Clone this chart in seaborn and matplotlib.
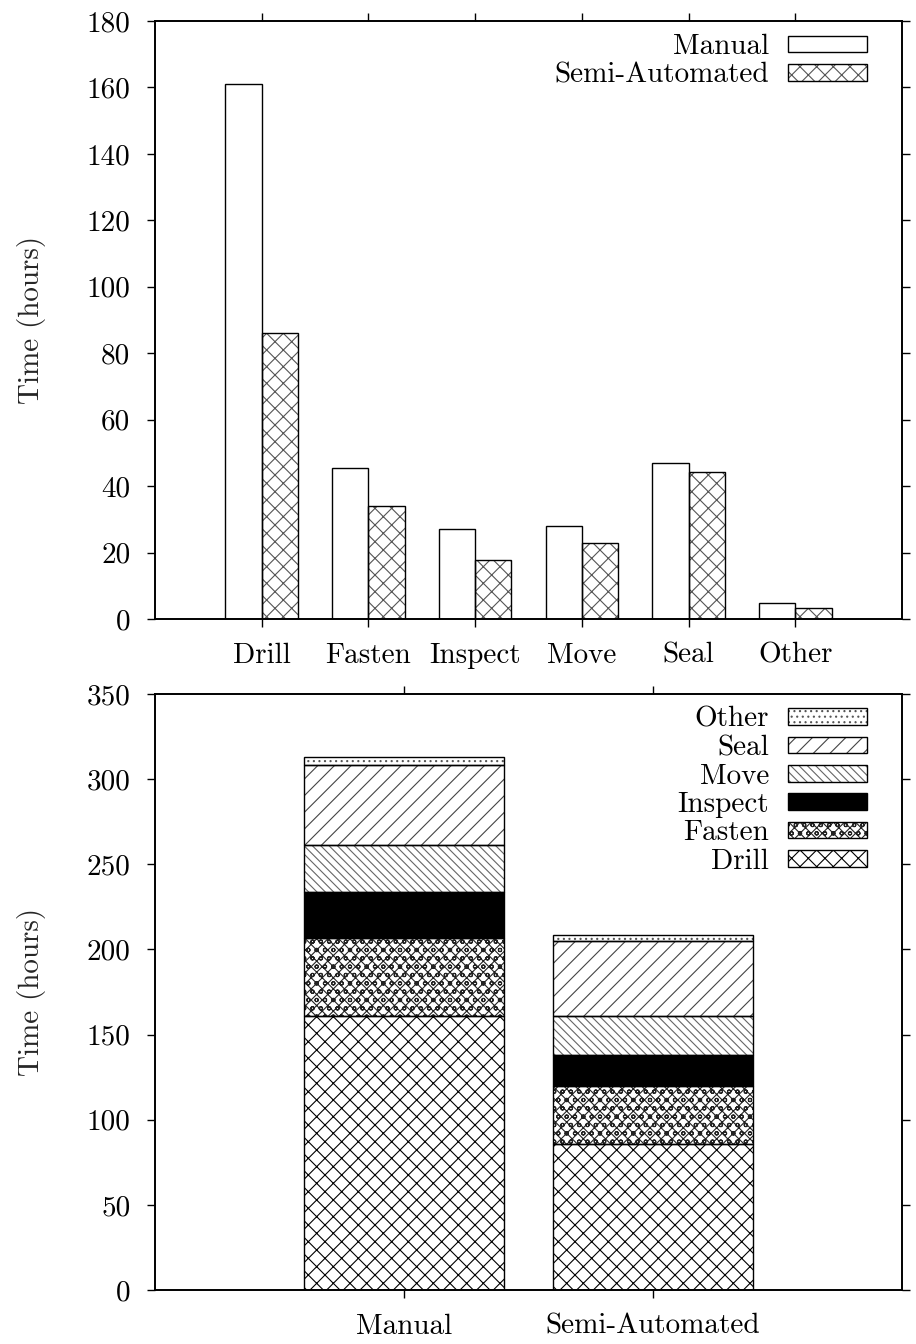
import matplotlib
matplotlib.use("Agg")
import matplotlib.pyplot as plt
import matplotlib.patches as mpatches
from matplotlib.legend_handler import HandlerTuple
import seaborn as sns
import pandas as pd
import numpy as np

# ---- data -------------------------------------------------------------
tasks = ["Drill", "Fasten", "Inspect", "Move", "Seal", "Other"]
methods = ["Manual", "Semi-Automated"]
manual_hours = [161.0, 45.5, 27.0, 28.0, 47.0, 4.7]
semi_hours = [86.0, 34.0, 17.8, 23.0, 44.2, 3.2]
top_yticks = [0, 20, 40, 60, 80, 100, 120, 140, 160, 180]
bottom_yticks = [0, 50, 100, 150, 200, 250, 300, 350]

# ---- styling ----------------------------------------------------------
sns.set_theme(style="ticks")
FS = 21.0
plt.rcParams.update({
    "font.family": ["cmr10", "DejaVu Serif"],
    "mathtext.fontset": "cm",
    "axes.unicode_minus": False,
    "font.size": FS,
    "axes.linewidth": 1.4,
    "hatch.linewidth": 0.8,
    "xtick.direction": "out",
    "ytick.direction": "out",
    "xtick.major.size": 5.8,
    "ytick.major.size": 5.8,
    "xtick.major.width": 1.0,
    "ytick.major.width": 1.0,
    "xtick.color": "black",
    "ytick.color": "black",
    "axes.edgecolor": "black",
    "text.color": "black",
})

# fill style per stacked segment: facecolor, hatch, hatch colour
task_style = {
    "Drill":   ("white", "xx", "black"),
    "Fasten":  ("white", "xxxoo", "#222222"),
    "Inspect": ("black", "", "black"),
    "Move":    ("white", "\\\\\\\\", "#666666"),
    "Seal":    ("white", "//", "#444444"),
    "Other":   ("white", "...", "#555555"),
}
method_style = {
    "Manual": ("white", "", "black"),
    "Semi-Automated": ("white", "xx", "#555555"),
}
EDGE_LW = 1.0


def style_bar(ax, patch, face, hatch, hcolor):
    """Apply fill/hatch to a bar and give it a crisp black outline."""
    patch.set_facecolor(face)
    patch.set_hatch(hatch if hatch else None)
    patch.set_edgecolor(hcolor)
    patch.set_linewidth(0)
    ax.add_patch(mpatches.Rectangle(patch.get_xy(), patch.get_width(),
                                    patch.get_height(), fill=False,
                                    edgecolor="black", linewidth=EDGE_LW,
                                    zorder=patch.get_zorder() + 0.1))


def legend_handle(face, hatch, hcolor):
    fill = mpatches.Patch(facecolor=face, hatch=hatch if hatch else None,
                          edgecolor=hcolor, linewidth=0)
    border = mpatches.Patch(facecolor="none", edgecolor="black",
                            linewidth=EDGE_LW)
    return (fill, border)


def finish_axes(ax, yticks):
    ax.set_ylim(yticks[0], yticks[-1])
    ax.set_yticks(yticks, [str(t) for t in yticks])
    ax.tick_params(axis="both", which="both", top=True, right=True,
                   labeltop=False, labelright=False, labelsize=FS)
    ax.tick_params(axis="y", pad=12)
    ax.tick_params(axis="x", pad=11)
    for s in ax.spines.values():
        s.set_visible(True)
        s.set_linewidth(1.4)
    ax.set_xlabel("")
    ax.set_ylabel("Time (hours)", fontsize=FS)
    ax.yaxis.set_label_coords(-0.146, 0.5)


LEG_KW = dict(loc="upper right", borderpad=0, borderaxespad=0,
              handlelength=2.7, handleheight=0.5, handletextpad=0.66,
              labelspacing=0.07, markerfirst=False, frameon=False,
              fontsize=FS, handler_map={tuple: HandlerTuple(ndivide=1, pad=0)})

W, H = 916, 1344
fig = plt.figure(figsize=(W / 100, H / 100), dpi=100)
ax_top = fig.add_axes([155 / W, 1 - 619 / H, 747 / W, 598 / H])
ax_bot = fig.add_axes([155 / W, 1 - 1290 / H, 747 / W, 596 / H])

# ---- grouped bars: hours per task ----------------------------------------
df_top = pd.DataFrame({
    "task": tasks * 2,
    "method": [methods[0]] * len(tasks) + [methods[1]] * len(tasks),
    "hours": manual_hours + semi_hours,
})
sns.barplot(data=df_top, x="task", y="hours", hue="method", order=tasks,
            hue_order=methods, palette=["white", "white"], width=0.68,
            gap=0, errorbar=None, legend=False, ax=ax_top)
bars = [p for p in ax_top.patches if isinstance(p, mpatches.Rectangle)]
n = len(tasks)
for i, p in enumerate(bars[: 2 * n]):
    style_bar(ax_top, p, *method_style[methods[i // n]])
ax_top.set_xlim(-1, len(tasks))
finish_axes(ax_top, top_yticks)
handles = [legend_handle(*method_style[m]) for m in methods]
ax_top.legend(handles, methods, bbox_to_anchor=(0.9531, 0.978), **LEG_KW)

# ---- stacked bars: total hours per method ---------------------------------
per_method = {methods[0]: manual_hours, methods[1]: semi_hours}
cum = np.zeros(len(methods))
for k, task in enumerate(tasks):
    vals = np.array([per_method[m][k] for m in methods])
    before = len(ax_bot.patches)
    sns.barplot(x=methods, y=vals, order=methods, color="white", width=0.8,
                errorbar=None, bottom=cum, ax=ax_bot)
    new = ax_bot.patches[before:]
    for p in new:
        style_bar(ax_bot, p, *task_style[task])
    cum = cum + vals
ax_bot.set_xlim(-1, len(methods))
finish_axes(ax_bot, bottom_yticks)
handles = [legend_handle(*task_style[t]) for t in tasks[::-1]]
ax_bot.legend(handles, tasks[::-1], bbox_to_anchor=(0.9531, 0.979), **LEG_KW)

fig.savefig("out.png", dpi=100, facecolor="white")
